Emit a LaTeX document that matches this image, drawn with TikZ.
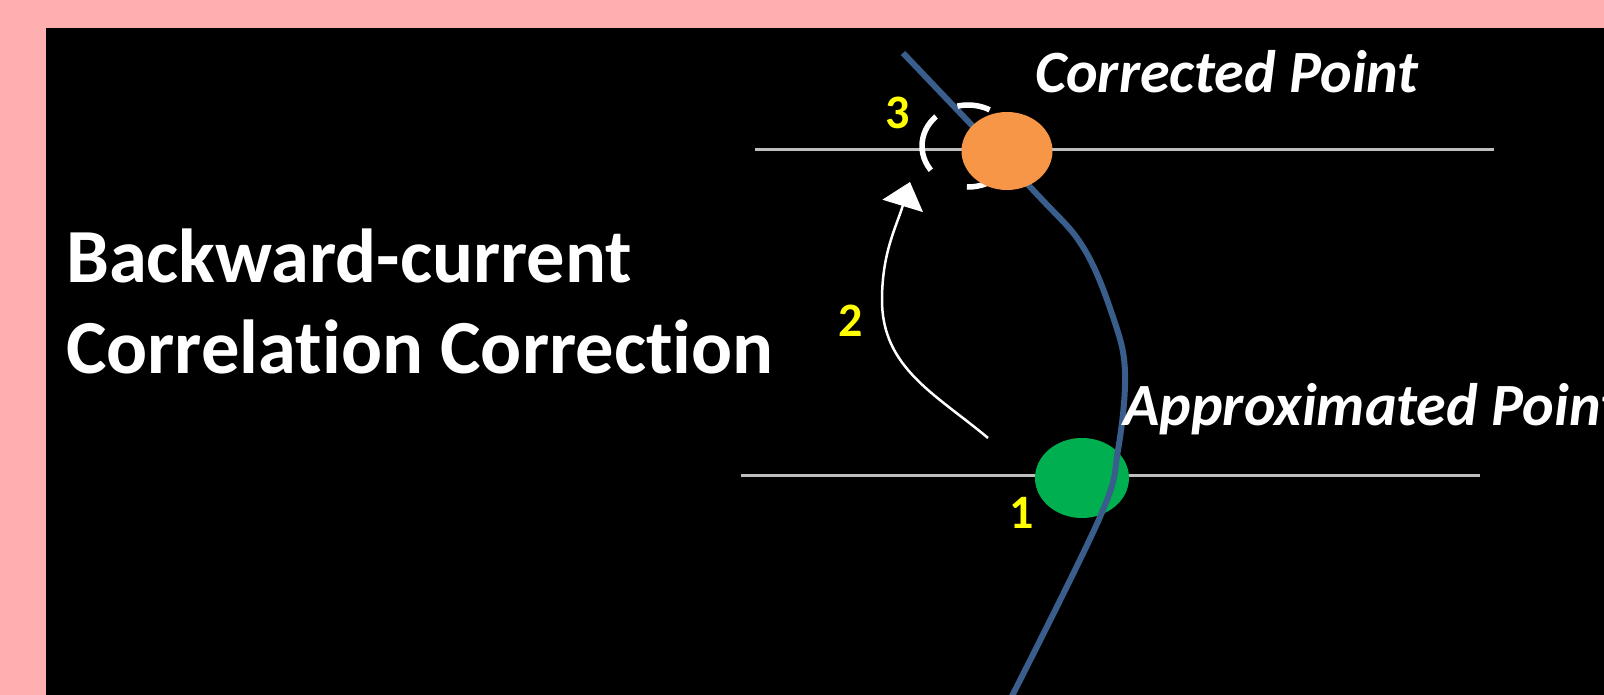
\documentclass[tikz,border=0pt]{standalone}
\usepackage{fontspec}
\setmainfont{Carlito}[Ligatures=NoCommon]
\usepackage{tikz}
\usetikzlibrary{arrows.meta, positioning, calc, shapes.geometric}

\definecolor{bgpink}{HTML}{FFAFAF}
\definecolor{wireblue}{RGB}{58,94,140}
\definecolor{trackgray}{HTML}{BEBEBE}
\definecolor{dotorange}{HTML}{F79646}
\definecolor{dotgreen}{HTML}{00B050}
\definecolor{numyellow}{HTML}{FFFF00}

\begin{document}
\begin{tikzpicture}[
    x=1pt, y=1pt,
    heading/.style={text=white, font=\fontsize{76.5}{90}\selectfont\bfseries,
      inner sep=0pt, anchor=base west},
    tag/.style={text=white, font=\fontsize{60}{72}\selectfont\bfseries\itshape,
      inner sep=0pt, anchor=base west},
    num/.style={text=numyellow, font=\fontsize{48}{58}\selectfont\bfseries, inner sep=0pt},
    track/.style={draw=trackgray, line width=3pt},
    wire/.style={draw=wireblue, line width=6pt},
    dot/.style={ellipse, inner sep=0pt},
    ghost/.style={ellipse, draw=white, line width=5.5pt, inner sep=0pt,
      minimum width=92pt, minimum height=82pt,
      dash pattern=on 33pt off 24pt on 60pt off 41pt on 46pt off 69.6pt, dash phase=227.6pt},
    hop/.style={-{Triangle[length=25pt, width=42pt]}, draw=white, line width=2.5pt}
  ]
  \clip (0,0) rectangle (1604,-695);
  \fill[bgpink] (0,0) rectangle (1604,-695);
  \fill[black] (46,-28) rectangle (1604,-695);

  % horizontal guides through both points
  \coordinate (topL) at (755,-150);
  \coordinate (topR) at (1494,-150);
  \coordinate (lowL) at (741,-475);
  \coordinate (lowR) at (1480,-475);
  \draw[track] (topL) -- (topR);
  \draw[track] (lowL) -- (lowR);

  \node[dot, fill=dotgreen, minimum width=94pt, minimum height=80pt] (approx) at (1082,-478) {};

  % the characteristic curve
  \draw[wire] plot[smooth, tension=0.6] coordinates {(903,-53) (1033,-190) (1083,-247)
    (1113,-317) (1125,-372) (1118,-450) (1100,-517) (1010,-700)};

  \node[ghost] (prev) at (968,-146) {};
  \node[dot, fill=dotorange, minimum width=91pt, minimum height=78pt] (corr) at (1007,-151) {};

  % correction step
  \coordinate (hopstart) at (988,-438);
  \coordinate (hopmid)   at (882,-300);
  \coordinate (hoptip)   at (910,-182);
  \draw[hop] (hopstart) to[out=140,in=-90] (hopmid) to[out=90,in=-107] (hoptip);

  \node[num] (n3) at (898,-113) {3};
  \node[num] (n2) at (851,-321) {2};
  \node[num] (n1) at (1022,-513) {1};

  \node[tag] (corrtxt) at (1035,-93) {Corrected Point};
  \node[tag] (approxtxt) at (1123,-425) {Approximated Point};

  \node[heading] (t1) at (66,-283) {Backward-current};
  \node[heading] (t2) at ([yshift=-90pt]t1.base west) {Correlation Correction};
\end{tikzpicture}
\end{document}
